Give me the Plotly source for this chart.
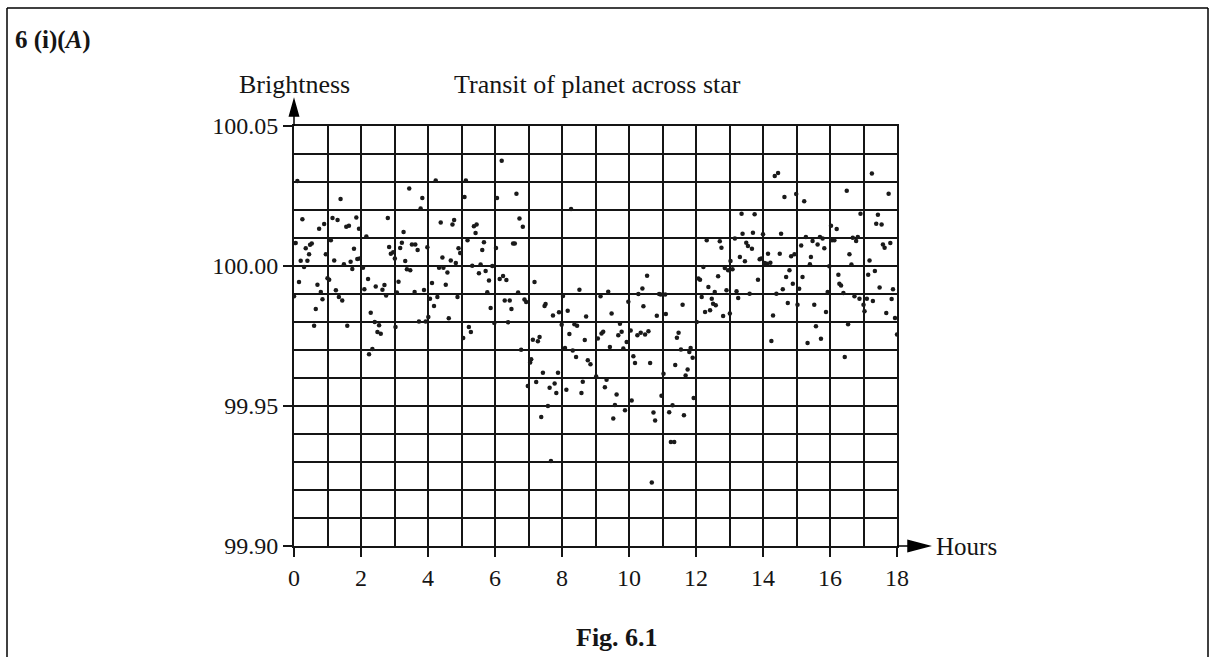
import plotly.graph_objects as go

# Hours
hours = [
    0.00, 0.05, 0.10, 0.15, 0.20, 0.25, 0.30, 0.35, 0.40, 0.45, 0.48, 0.53, 0.60, 0.65, 0.70, 0.75, 0.80, 0.85, 0.90, 0.95,
    1.00, 1.05, 1.10, 1.15, 1.20, 1.25, 1.30, 1.34, 1.39, 1.44, 1.49, 1.56, 1.59, 1.64, 1.69, 1.74, 1.79, 1.86, 1.89, 1.94, 1.96,
    2.06, 2.10, 2.16, 2.21, 2.24, 2.29, 2.34, 2.41, 2.44, 2.49, 2.54, 2.59, 2.64, 2.70, 2.75, 2.80, 2.84, 2.89, 2.96,
    3.01, 3.03, 3.07, 3.12, 3.17, 3.22, 3.27, 3.32, 3.37, 3.44, 3.47, 3.52, 3.60, 3.62, 3.69, 3.73, 3.78, 3.83, 3.88, 3.93, 3.98,
    4.01, 4.06, 4.12, 4.18, 4.23, 4.28, 4.33, 4.38, 4.43, 4.46, 4.53, 4.58, 4.62, 4.68, 4.73, 4.78, 4.83, 4.88, 4.91, 4.96,
    5.05, 5.09, 5.13, 5.18, 5.22, 5.28, 5.32, 5.37, 5.42, 5.45, 5.52, 5.57, 5.62, 5.67, 5.72, 5.77, 5.82, 5.87, 5.92, 5.98,
    6.03, 6.06, 6.14, 6.20, 6.24, 6.29, 6.34, 6.39, 6.44, 6.49, 6.54, 6.59, 6.64, 6.69, 6.73, 6.78, 6.83, 6.88, 6.93, 6.98,
    7.05, 7.08, 7.13, 7.18, 7.23, 7.28, 7.33, 7.38, 7.43, 7.48, 7.51, 7.58, 7.63, 7.67, 7.73, 7.78, 7.83, 7.88, 7.91, 7.99,
    8.03, 8.09, 8.13, 8.17, 8.22, 8.27, 8.32, 8.37, 8.42, 8.45, 8.52, 8.58, 8.62, 8.68, 8.72, 8.77, 8.85,
    9.02, 9.07, 9.15, 9.18, 9.23, 9.28, 9.33, 9.38, 9.43, 9.48, 9.53, 9.58, 9.63, 9.68, 9.73, 9.78, 9.83, 9.88, 9.93, 9.98,
    10.05, 10.08, 10.13, 10.18, 10.25, 10.28, 10.35, 10.40, 10.43, 10.48, 10.54, 10.58, 10.63, 10.68, 10.73, 10.78, 10.83, 10.90, 10.95, 10.97,
    11.03, 11.08, 11.10, 11.20, 11.25, 11.30, 11.35, 11.38, 11.43, 11.48, 11.55, 11.60, 11.64, 11.69, 11.75, 11.80, 11.84, 11.90, 11.93,
    12.02, 12.07, 12.12, 12.17, 12.22, 12.27, 12.32, 12.37, 12.42, 12.47, 12.51, 12.56, 12.59, 12.66, 12.71, 12.76, 12.81, 12.86, 12.91, 12.96,
    13.01, 13.03, 13.09, 13.16, 13.21, 13.26, 13.31, 13.36, 13.39, 13.46, 13.50, 13.55, 13.60, 13.67, 13.70, 13.75, 13.85, 13.90, 13.95,
    14.00, 14.05, 14.12, 14.15, 14.22, 14.25, 14.30, 14.35, 14.40, 14.45, 14.50, 14.54, 14.59, 14.64, 14.69, 14.74, 14.79, 14.84, 14.89, 14.94, 14.99,
    15.03, 15.08, 15.14, 15.18, 15.23, 15.28, 15.33, 15.40, 15.43, 15.48, 15.53, 15.58, 15.63, 15.70, 15.73, 15.78, 15.83, 15.88, 15.93, 15.98,
    16.03, 16.06, 16.13, 16.20, 16.25, 16.28, 16.33, 16.40, 16.44, 16.50, 16.54, 16.58, 16.64, 16.68, 16.73, 16.78, 16.83, 16.88, 16.91,
    17.00, 17.03, 17.10, 17.14, 17.18, 17.25, 17.28, 17.34, 17.38, 17.43, 17.48, 17.54, 17.58, 17.63, 17.68, 17.75, 17.80, 17.84, 17.88, 17.94, 18.00,
]

# Brightness
brightness = [
    99.9892, 100.0082, 100.0304, 99.9943, 100.0019, 100.0167, 99.9996, 100.0063, 100.0019, 100.0042, 100.0076, 100.0080, 99.9787, 99.9846, 99.9933, 100.0133, 99.9907, 99.9881, 100.0150, 100.0042,
    99.9956, 99.9951, 100.0092, 100.0171, 100.0020, 99.9913, 100.0164, 99.9889, 100.0239, 99.9877, 100.0006, 100.0140, 99.9787, 100.0144, 100.0015, 99.9989, 100.0062, 100.0173, 100.0025, 100.0133, 100.0027,
    99.9994, 99.9917, 100.0105, 99.9954, 99.9685, 99.9833, 99.9704, 99.9800, 99.9927, 99.9764, 99.9788, 99.9758, 99.9915, 99.9932, 99.9895, 100.0171, 100.0068, 100.0044, 100.0049,
    100.0027, 99.9782, 99.9905, 99.9944, 100.0064, 100.0083, 100.0121, 100.0018, 99.9988, 100.0277, 99.9985, 100.0077, 99.9907, 100.0077, 100.0057, 99.9802, 100.0205, 100.0243, 99.9914, 99.9802, 100.0067,
    99.9818, 99.9883, 99.9939, 99.9857, 100.0305, 99.9889, 99.9994, 100.0155, 100.0030, 99.9994, 99.9933, 99.9977, 99.9813, 100.0020, 100.0148, 100.0164, 100.0011, 99.9889, 100.0063, 100.0046,
    99.9743, 100.0246, 100.0305, 100.0092, 99.9782, 99.9764, 100.0001, 100.0142, 100.0118, 100.0148, 99.9974, 100.0005, 100.0057, 100.0085, 99.9982, 99.9906, 99.9948, 99.9850, 100.0000, 99.9796,
    100.0064, 100.0243, 99.9954, 100.0376, 99.9964, 99.9877, 99.9950, 99.9799, 99.9877, 99.9846, 100.0080, 100.0080, 100.0258, 99.9905, 100.0170, 99.9701, 100.0140, 99.9880, 99.9871, 99.9571,
    99.9655, 99.9667, 99.9737, 99.9943, 99.9586, 99.9731, 99.9746, 99.9461, 99.9619, 99.9857, 99.9864, 99.9500, 99.9565, 99.9304, 99.9823, 99.9580, 99.9546, 99.9619, 99.9835, 99.9790,
    99.9893, 99.9707, 99.9558, 99.9840, 99.9757, 100.0204, 99.9698, 99.9792, 99.9675, 99.9787, 99.9915, 99.9546, 99.9587, 99.9736, 99.9820, 99.9663, 99.9649,
    99.9605, 99.9741, 99.9892, 99.9759, 99.9765, 99.9567, 99.9594, 99.9908, 99.9711, 99.9830, 99.9455, 99.9504, 99.9541, 99.9753, 99.9794, 99.9765, 99.9705, 99.9485, 99.9729, 99.9872,
    99.9770, 99.9520, 99.9678, 99.9654, 99.9753, 99.9900, 99.9762, 99.9920, 99.9856, 99.9755, 99.9965, 99.9767, 99.9654, 99.9227, 99.9477, 99.9448, 99.9822, 99.9900, 99.9898, 99.9537,
    99.9615, 99.9898, 99.9829, 99.9478, 99.9371, 99.9503, 99.9371, 99.9646, 99.9744, 99.9762, 99.9702, 99.9862, 99.9467, 99.9609, 99.9630, 99.9693, 99.9707, 99.9672, 99.9529,
    99.9800, 99.9955, 99.9951, 99.9889, 99.9996, 99.9836, 100.0092, 99.9925, 99.9842, 99.9883, 99.9865, 99.9907, 99.9860, 99.9963, 100.0088, 100.0065, 99.9821, 99.9993, 99.9913, 99.9985,
    99.9830, 100.0018, 99.9988, 100.0098, 99.9910, 99.9886, 100.0032, 100.0187, 100.0115, 100.0017, 100.0083, 100.0071, 99.9901, 100.0062, 100.0119, 100.0185, 99.9951, 100.0024, 100.0027,
    100.0113, 100.0011, 100.0008, 100.0044, 100.0012, 99.9732, 99.9823, 100.0321, 99.9901, 100.0332, 100.0044, 100.0115, 99.9917, 100.0246, 99.9961, 99.9868, 99.9985, 100.0035, 99.9937, 100.0042, 100.0257,
    99.9862, 99.9919, 100.0073, 99.9961, 100.0231, 100.0104, 99.9725, 100.0006, 100.0032, 100.0089, 99.9862, 99.9785, 100.0077, 100.0104, 99.9740, 100.0098, 100.0063, 99.9836, 99.9907, 99.9999,
    100.0144, 100.0092, 100.0092, 100.0132, 99.9969, 99.9937, 99.9930, 99.9904, 99.9675, 100.0269, 99.9792, 100.0042, 100.0005, 100.0101, 99.9892, 100.0089, 100.0104, 99.9883, 100.0187,
    99.9862, 99.9838, 99.9883, 99.9969, 100.0020, 100.0330, 99.9875, 99.9982, 100.0151, 100.0183, 99.9923, 100.0148, 100.0077, 100.0065, 99.9832, 100.0258, 100.0082, 99.9882, 99.9917, 99.9814, 99.9755,
]

x_ticks = [0, 2, 4, 6, 8, 10, 12, 14, 16, 18]
y_ticks = [99.90, 99.95, 100.00, 100.05]
y_tick_labels = ["99.90", "99.95", "100.00", "100.05"]

FONT = "Liberation Serif"
INK = "#151515"
W, H = 1216, 657
ML, MR, MT, MB = 294, 319, 126, 111
PW, PH = W - ML - MR, H - MT - MB


def px(xp):
    return (xp - ML) / PW


def py(yp):
    return (H - MB - yp) / PH


fig = go.Figure()
fig.add_trace(go.Scatter(
    x=hours, y=brightness, mode="markers",
    marker=dict(size=4.5, color="#1a1a1a", line=dict(width=0)),
    showlegend=False, hoverinfo="x+y",
))

axis_common = dict(
    showline=True, linecolor=INK, linewidth=1.8, mirror=True,
    showgrid=True, gridcolor=INK, gridwidth=1.6,
    ticks="outside", ticklen=9, tickwidth=1.5, tickcolor=INK,
    tickfont=dict(family=FONT, size=24, color=INK),
    zeroline=False,
)

fig.update_layout(
    width=W, height=H,
    margin=dict(l=ML, r=MR, t=MT, b=MB, pad=0),
    paper_bgcolor="white", plot_bgcolor="white",
    xaxis=dict(range=[0, 18], tickvals=x_ticks, ticktext=[str(v) for v in x_ticks],
               minor=dict(dtick=1, showgrid=True, gridcolor=INK, gridwidth=1.6, ticks=""),
               **axis_common),
    yaxis=dict(range=[99.90, 100.05], tickvals=y_ticks, ticktext=y_tick_labels,
               minor=dict(dtick=0.01, tick0=99.90, showgrid=True, gridcolor=INK, gridwidth=1.6, ticks=""),
               **axis_common),
    font=dict(family=FONT, color=INK),
)

annotations = [
    dict(text="<b>6 (i)(<i>A</i>)</b>", x=px(13), y=py(40), xanchor="left", yanchor="middle", size=25),
    dict(text="Brightness", x=px(294), y=py(85), xanchor="center", yanchor="middle", size=26),
    dict(text="Transit of planet across star", x=px(597), y=py(85), xanchor="center", yanchor="middle", size=26),
    dict(text="Hours", x=px(934), y=py(546), xanchor="left", yanchor="middle", size=25),
    dict(text="<b>Fig. 6.1</b>", x=px(617), y=py(637), xanchor="center", yanchor="middle", size=26),
]
for a in annotations:
    size = a.pop("size")
    fig.add_annotation(xref="paper", yref="paper", showarrow=False,
                       font=dict(family=FONT, size=size, color=INK), **a)

shapes = [
    # outer frame
    dict(type="line", x0=px(7), x1=px(7), y0=py(8), y1=py(700)),
    dict(type="line", x0=px(7), x1=px(1208), y0=py(8), y1=py(8)),
    dict(type="line", x0=px(1208), x1=px(1208), y0=py(8), y1=py(700)),
    # y axis arrow
    dict(type="line", x0=px(294), x1=px(294), y0=py(126), y1=py(112)),
    dict(type="path", path=f"M {px(294)},{py(100)} L {px(289.5)},{py(116)} L {px(298.5)},{py(116)} Z",
         fillcolor="black"),
    # x axis arrow
    dict(type="line", x0=px(897), x1=px(912), y0=py(546), y1=py(546)),
    dict(type="path", path=f"M {px(929)},{py(546)} L {px(908)},{py(540.5)} L {px(908)},{py(551.5)} Z",
         fillcolor="black"),
]
for s in shapes:
    fig.add_shape(xref="paper", yref="paper", line=dict(color="black", width=1.5), **s)

fig.write_html("out.html")
